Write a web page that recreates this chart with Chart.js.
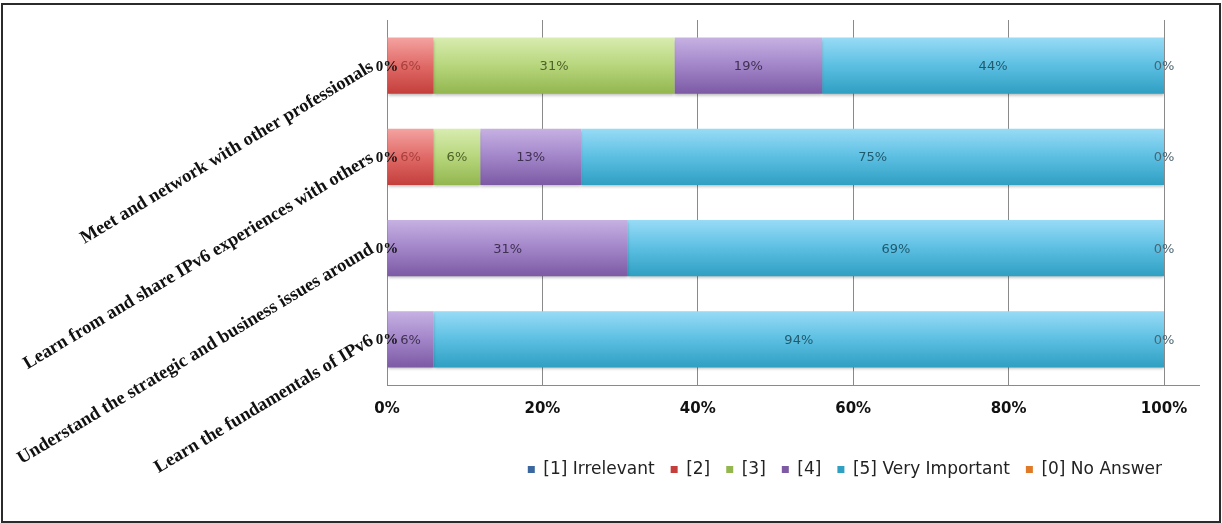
<!DOCTYPE html>
<html>
<head>
<meta charset="utf-8">
<script src="https://cdn.jsdelivr.net/npm/chart.js@4.4.1/dist/chart.umd.min.js"></script>
<style>
  html, body { margin: 0; padding: 0; background: #fff; }
  #wrap { width: 1222px; height: 523px; position: relative; }
</style>
</head>
<body>
<div id="wrap"><canvas id="c" width="1222" height="523"></canvas></div>
<script>
// Survey: importance of each reason for attending (share of answers, %)
const categories = [
  'Meet and network with other professionals',
  'Learn from and share IPv6 experiences with others',
  'Understand the strategic and business issues around',
  'Learn the fundamentals of IPv6'
];
const seriesNames = ['[1] Irrelevant', '[2]', '[3]', '[4]', '[5] Very Important', '[0] No Answer'];
const irrelevant    = [0, 0, 0, 0];
const rating2       = [6, 6, null, null];
const rating3       = [31, 6, null, null];
const rating4       = [19, 13, 31, 6];
const veryImportant = [44, 75, 69, 94];
const noAnswer      = [0, 0, 0, 0];
const xTicks = [0, 20, 40, 60, 80, 100];

const BAR_PCT = 0.615;

// vertical gradient per bar, lighter on top
function barFill(stops, flat) {
  return (ctx) => {
    if (ctx.type !== 'data') return flat;
    const chart = ctx.chart;
    const ys = chart.scales.y;
    if (!ys || !chart.chartArea) return flat;
    const mid = ys.getPixelForValue(ctx.dataIndex);
    const half = (ys.height / categories.length) * BAR_PCT / 2;
    const g = chart.ctx.createLinearGradient(0, mid - half, 0, mid + half);
    stops.forEach((s, k) => g.addColorStop(k / (stops.length - 1), s));
    return g;
  };
}

const labelSans = '13px "DejaVu Sans"';
const seriesStyle = [
  { flat: '#4f81bd', stops: ['#9bb7dd', '#4f81bd', '#3a679f'], label: '#111', font: 'bold 15px "Liberation Serif"' },
  { flat: '#c0504d', stops: ['#f4a3a1', '#e06a67', '#c43f3c'], label: '#a8403d', font: labelSans },
  { flat: '#9bbb59', stops: ['#d8ecb0', '#b7d67c', '#93b64f'], label: '#4f6228', font: labelSans },
  { flat: '#8064a2', stops: ['#c6b1e2', '#a285c9', '#7c5aa4'], label: '#3f3151', font: labelSans },
  { flat: '#4bacc6', stops: ['#98dbf6', '#5cbfe2', '#2f9fc2'], label: '#215a6e', font: labelSans },
  { flat: '#f79646', stops: ['#fbc08c', '#f79646', '#e07a28'], label: '#4a6572', font: labelSans }
];
const seriesData = [irrelevant, rating2, rating3, rating4, veryImportant, noAnswer];

const datasets = seriesNames.map((name, i) => ({
  label: name,
  data: seriesData[i],
  backgroundColor: barFill(seriesStyle[i].stops, seriesStyle[i].flat),
  borderWidth: 0,
  barPercentage: BAR_PCT,
  categoryPercentage: 1,
  labelColor: seriesStyle[i].label,
  labelFont: seriesStyle[i].font
}));

// soft drop shadow under the bars + centred value labels
const valueLabels = {
  id: 'valueLabels',
  beforeDatasetsDraw(chart) {
    const c = chart.ctx;
    c.save();
    c.shadowColor = 'rgba(0,0,0,0.28)';
    c.shadowOffsetY = 2;
    c.shadowBlur = 3;
  },
  afterDatasetsDraw(chart) {
    const c = chart.ctx;
    c.restore();
    chart.data.datasets.forEach((ds, i) => {
      const meta = chart.getDatasetMeta(i);
      if (meta.hidden) return;
      meta.data.forEach((bar, j) => {
        const v = ds.data[j];
        if (v === null || v === undefined) return;
        const p = bar.getProps(['x', 'y', 'base'], true);
        c.save();
        c.font = ds.labelFont;
        c.fillStyle = ds.labelColor;
        c.textAlign = 'center';
        c.textBaseline = 'middle';
        c.fillText(v + '%', (p.x + p.base) / 2, p.y + 1);
        c.restore();
      });
    });
  }
};

const LEGEND_PAD = 16;

// x axis line runs on past the last gridline; outer frame round the chart
const decorations = {
  id: 'decorations',
  afterLayout(chart) {
    const shift = LEGEND_PAD - 2;
    chart.legend.left += shift;
    chart.legend.right += shift;
  },
  afterDraw(chart) {
    const c = chart.ctx;
    const a = chart.chartArea;
    c.save();
    c.strokeStyle = '#8a8a8a';
    c.lineWidth = 1;
    c.beginPath();
    c.moveTo(a.right, Math.round(a.bottom) + 0.5);
    c.lineTo(a.right + 36, Math.round(a.bottom) + 0.5);
    c.stroke();
    c.strokeStyle = '#2b2b2b';
    c.lineWidth = 2;
    c.strokeRect(2, 4, chart.width - 4, chart.height - 5);
    c.restore();
  }
};

new Chart(document.getElementById('c'), {
  type: 'bar',
  data: { labels: categories, datasets },
  plugins: [valueLabels, decorations],
  options: {
    indexAxis: 'y',
    responsive: false,
    animation: false,
    devicePixelRatio: 1,
    layout: { padding: { top: 20, right: 58, bottom: 35, left: 0 } },
    plugins: {
      tooltip: { enabled: false },
      legend: {
        position: 'bottom',
        align: 'end',
        labels: {
          boxWidth: 7,
          boxHeight: 7,
          padding: LEGEND_PAD,
          color: '#222',
          font: { family: 'DejaVu Sans', size: 17 }
        }
      }
    },
    scales: {
      x: {
        stacked: true,
        min: 0,
        max: 100,
        grid: { color: '#8a8a8a', lineWidth: 1, drawTicks: false },
        border: { color: '#8a8a8a', width: 1 },
        afterBuildTicks: (s) => { s.ticks = xTicks.map(v => ({ value: v })); },
        ticks: {
          padding: 15,
          color: '#111',
          font: { family: 'DejaVu Sans', weight: 'bold', size: 15 },
          callback: (v) => v + '%'
        },
        afterFit: (s) => { s.height = 60; }
      },
      y: {
        stacked: true,
        grid: { display: false, drawTicks: false },
        border: { display: true, color: '#8a8a8a', width: 1 },
        ticks: {
          minRotation: 31,
          maxRotation: 31,
          padding: 15,
          color: '#111',
          font: { family: 'Liberation Serif', weight: 'bold', size: 18.5 }
        },
        afterFit: (s) => { s.width = 387; s.paddingTop = 0; s.paddingBottom = 0; }
      }
    }
  }
});
</script>
</body>
</html>
